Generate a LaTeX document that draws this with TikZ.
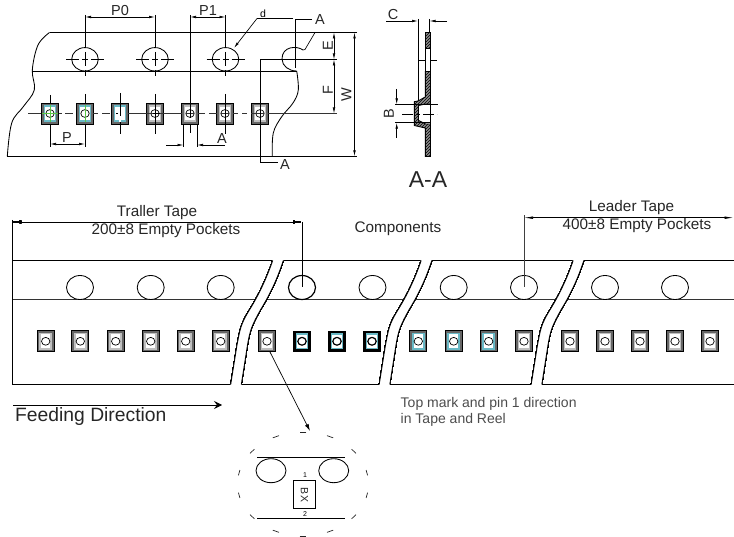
\documentclass[tikz,border=0pt]{standalone}
\usepackage{fontspec}
\setmainfont{Liberation Sans}
\usetikzlibrary{arrows.meta,patterns}
\definecolor{teal1}{RGB}{105,185,198}
\definecolor{grn}{RGB}{90,200,70}
\tikzset{
  ln/.style={line width=0.85pt,black},
  thinln/.style={line width=0.65pt,black},
  dim/.style={line width=0.65pt,black,{Latex[length=6pt,width=2.6pt]}-{Latex[length=6pt,width=2.6pt]}},
  dimlong/.style={line width=0.65pt,black,{Latex[length=9pt,width=2.6pt]}-{Latex[length=9pt,width=2.6pt]}},
  arr/.style={line width=0.65pt,black,-{Latex[length=6pt,width=2.6pt]}},
  ctr/.style={line width=0.8pt,black!80},
  lab/.style={inner sep=0pt,font=\fontsize{14.5}{14.5}\selectfont,text=black!85},
  tl/.style={inner sep=0pt,font=\fontsize{15.3}{15.3}\selectfont,text=black!85},
  note/.style={inner sep=0pt,anchor=west,font=\fontsize{14}{14}\selectfont,text=black!70},
  hole/.style={line width=0.85pt,black,fill=white},
  hatched/.style={line width=0.9pt,black,preaction={fill=black!45},pattern=north east lines,pattern color=black}
}
\newcommand{\pocketbare}[3]{% x y framecolour
  \fill[black!60] (#1-8.5,#2-10.5) rectangle (#1+8.5,#2+10.5);
  \draw[black,line width=0.9pt] (#1-8.5,#2-10.5) rectangle (#1+8.5,#2+10.5);
  \fill[#3] (#1-6.3,#2-8.3) rectangle (#1+6.3,#2+8.3);
  \fill[white] (#1-4.6,#2-6.8) rectangle (#1+4.6,#2+6.8);
}
\newcommand{\pocketbox}[3]{%
  \pocketbare{#1}{#2}{#3}
  \draw[black,line width=0.7pt] (#1,#2) ellipse (4.2 and 3.9);
}
\newcommand{\tapebreak}[1]{% shift of the S-curve pair
  \fill[white] (272.7+#1,260) .. controls (266+#1,280) and (258+#1,296) .. (250+#1,309) .. controls (240+#1,325) and (240+#1,330) .. (237+#1,345) -- (230.7+#1,385) -- (241.3+#1,385) -- (247.5+#1,345) .. controls (250+#1,330) and (252+#1,325) .. (261+#1,309) .. controls (269+#1,296) and (277+#1,280) .. (283.3+#1,260) -- cycle;
  \draw[ln] (272.7+#1,260.5) .. controls (266+#1,280) and (258+#1,296) .. (250+#1,309) .. controls (240+#1,325) and (240+#1,330) .. (237+#1,345) -- (230.7+#1,384.5);
  \draw[ln] (283.3+#1,260.5) .. controls (277+#1,280) and (269+#1,296) .. (261+#1,309) .. controls (252+#1,325) and (250+#1,330) .. (247.5+#1,345) -- (241.3+#1,384.5);
}
\begin{document}
\begin{tikzpicture}[x=1pt,y=-1pt]
\useasboundingbox (0,0) rectangle (734,537);
% ---------- upper tape
\draw[ln] (357,32.5) -- (49.5,32.5);
\draw[ln] plot[smooth,tension=0.6] coordinates {(49.5,32.5) (38,45) (32.3,70) (34.3,90) (23.3,106.7) (11.7,123) (7.3,156.3)};
\draw[ln] (7.3,156.3) -- (357,156.3);
\draw[ln] (32,71) -- (297,71);
\draw[ln] plot[smooth,tension=0.6] coordinates {(296.7,71) (298.3,90) (293,103) (281.7,116.7) (273.3,133) (272.3,156.3)};
\foreach \x in {85,155,225.5} \draw[hole] (\x,59.3) ellipse (13.3 and 11.7);
\draw[ln] (303,50) .. controls (297,45.5) and (282,46) .. (282,59) .. controls (282,66) and (289,71) .. (296.5,71);
\foreach \x in {85,155,225.5} {
  \draw[thinln] (\x-19,59.3) -- (\x-6,59.3) (\x-3,59.3) -- (\x+3,59.3) (\x+6,59.3) -- (\x+19,59.3);
  \draw[thinln] (\x,15) -- (\x,48) (\x,52) -- (\x,66) (\x,70) -- (\x,76);
}
% pockets and centre line
\pocketbox{50}{113.5}{teal1}
\pocketbox{85}{113.5}{teal1}
\pocketbare{120}{113.5}{teal1}
\pocketbox{155}{113.5}{black!25}
\pocketbox{190}{113.5}{black!25}
\pocketbox{225}{113.5}{black!25}
\pocketbox{260}{113.5}{black!25}
\draw[ctr] (28,113.5) -- (41,113.5) (59,113.5) -- (62,113.5) (65,113.5) -- (73,113.5) (93,113.5) -- (98,113.5) (102,113.5) -- (110,113.5) (128,113.5) -- (182,113.5) (186,113.5) -- (194,113.5) (198,113.5) -- (205,113.5) (209,113.5) -- (217,113.5) (221,113.5) -- (229,113.5) (233,113.5) -- (238,113.5) (242,113.5) -- (247,113.5) (251,113.5) -- (264,113.5) (268,113.5) -- (337,113.5);
\draw[thinln] (153,113.5) -- (160,113.5) (116,113.5) -- (118,113.5);
\draw[grn,line width=1pt] (50,105) -- (50,122) (42,113.5) -- (58,113.5) (85,105) -- (85,122);
\draw[thinln] (50,95) -- (50,103) (50,124) -- (50,147);
\draw[thinln] (85,94) -- (85,103) (85,124) -- (85,147);
\draw[thinln] (120,93) -- (120,134) (155,94) -- (155,134) (225,94) -- (225,134) (260,94) -- (260,134);
\fill[white] (118.8,116) rectangle (121.2,122);
% dimensions top
\draw[thinln] (190,15) -- (190,118) (190,124) -- (190,133);
\draw[dim] (85,17) -- (155,17);
\draw[dim] (190,17) -- (225.5,17);
\node[lab] (tP0) at (120,11) {P0};
\node[lab] (tP1) at (208,11) {P1};
\draw[thinln] (312,19) -- (295.5,19) -- (295.5,68);
\node[lab] (tA1) at (320,20) {A};
\draw[thinln] (315,32.5) -- (305,49.5) -- (303,50);
\node[inner sep=0pt,font=\fontsize{10.5}{10.5}\selectfont] (td) at (263,13.5) {d};
\draw[thinln] (293,18.5) -- (257,18.5);
\draw[arr] (257,18.5) -- (234,48);
% lower section mark
\draw[thinln] (337,59.5) -- (260,59.5) -- (260,162) -- (278,162);
\node[lab] (tA2) at (285,165) {A};
% P and A
\draw[thinln] (183.5,125) -- (183.5,147) (197,125) -- (197,147);
\draw[dim] (50,144) -- (85,144);
\node[lab] (tP) at (67,137.5) {P};
\draw[arr] (166,145) -- (183.5,145);
\draw[arr] (225,145) -- (197,145);
\node[lab] (tA3) at (222,138.5) {A};
% right dims
\draw[dim] (334,32.5) -- (334,59.5);
\draw[dim] (334,59.5) -- (334,113.5);
\draw[dim] (354.5,32.5) -- (354.5,156.3);
\node[lab,rotate=90] (tE) at (328,46) {E};
\node[lab,rotate=90] (tF) at (328,90.5) {F};
\node[lab,rotate=90] (tW) at (346.5,95) {W};
% ---------- section A-A
\node[lab] (tC) at (393,14.5) {C};
\draw[arr] (386,21) -- (418,21);
\draw[arr] (447,21) -- (429.5,21);
\draw[thinln] (418,19) -- (418,101);
\draw[thinln] (429.5,19) -- (429.5,32);
\draw[thinln] (418,60) -- (437,60);
\draw[thinln,fill=white] (425.3,48.5) rectangle (430.5,71.5);
\draw[hatched] (425.3,32.3) rectangle (430.5,48.5);
\draw[hatched] (425.3,71.5) -- (430.5,71.5) -- (430.5,104) -- (425.3,104) -- (418.5,105.5) -- (418.5,120.5) -- (425.5,124) -- (430.5,124) -- (430.5,156.5) -- (425.3,156.5) -- (425.3,128) -- (414.3,125.5) -- (414.3,101.7) -- (418,101) -- (425.3,97) -- cycle;
\draw[thinln] (430.5,104) -- (430.5,124);
\draw[thinln] (395,104.4) -- (438,104.4) (395,122.7) -- (430,122.7);
\draw[thinln,dash pattern=on 11pt off 3pt on 4pt off 3pt] (402,114) -- (437,114);
\draw[arr] (396.7,89) -- (396.7,104.4);
\draw[arr] (396.7,138) -- (396.7,122.7);
\node[lab,rotate=90] (tB) at (389,114) {B};
\node[inner sep=0pt,font=\fontsize{23}{23}\selectfont,text=black!85] (tAA) at (428,179.5) {A-A};
% ---------- lower tape
\draw[ln] (12,260.5) -- (734,260.5);
\draw[ln,black!80] (12,299.3) -- (734,299.3);
\draw[ln] (12,384.5) -- (734,384.5);
\draw[thinln] (12,220) -- (12,384.5);
\foreach \x in {80,150.7,220.7,372.5,453.7,524,605,675} \draw[hole] (\x,287.5) ellipse (13.5 and 12);
\draw[hole,line width=1.2pt] (302,287.5) ellipse (13.5 and 12);
\foreach \x in {45.7,80.3,115.7,150.7,185.7,220.7,267,524,570,605,640,675,710} \pocketbox{\x}{341.3}{black!25}
\foreach \x in {418.3,453.7,488.7} \pocketbox{\x}{341.3}{teal1}
\foreach \x in {302,337,372} {
  \fill[black] (\x-8.7,330.8) rectangle (\x+8.7,351.8);
  \fill[teal1] (\x-6,333.5) rectangle (\x+6,349.2);
  \fill[white] (\x-4.8,334.7) rectangle (\x+4.8,348);
  \draw[black,line width=1.2pt] (\x,341.3) ellipse (4.2 and 3.9);
}
\tapebreak{0}
\tapebreak{148.5}
\tapebreak{300.5}
% lower dimensions
\draw[dimlong] (12,222) -- (302,222);
\draw[thinln] (302,222) -- (302,287.5);
\draw[dimlong] (524,217.7) -- (733.5,217.7);
\draw[line width=0.9pt,black!75] (524,215.5) -- (524,287.5);
\node[tl] (tTr) at (157,213) {Traller Tape};
\node[tl] (t200) at (166,230.5) {200±8 Empty Pockets};
\node[tl] (tCo) at (398,229) {Components};
\node[tl] (tLe) at (631.5,208) {Leader Tape};
\node[tl] (t400) at (637,226) {400±8 Empty Pockets};
\node[inner sep=0pt,anchor=west,font=\fontsize{19.3}{19.3}\selectfont,text=black!85] (tFe) at (15,417) {Feeding Direction};
\draw[line width=0.85pt,black,-{Stealth[length=8pt,width=8pt,inset=3pt]}] (13,405) -- (222,405);
\node[note] (tTo) at (400.5,404) {Top mark and pin 1 direction};
\node[note] (tIn) at (400.5,420) {in Tape and Reel};
\draw[line width=0.7pt,black,-{Latex[length=7pt,width=4pt]}] (270,352) -- (310,431);
% ---------- detail
\foreach \t in {90,65.5,39,12.6,-12.6,-39,-65.5,-90,-114.5,-141,-167.4,167.4,141,114.5} {
  \draw[line width=0.7pt,black!85] ({303+65.5*cos(\t-3)},{484-52*sin(\t-3)}) -- ({303+65.5*cos(\t+3)},{484-52*sin(\t+3)});
}
\draw[ln] (257,457.7) -- (345,457.7);
\draw[ln] (257,518) -- (345,518);
\draw[ln] (271,470.7) ellipse (15 and 12);
\draw[ln] (333.7,470.7) ellipse (15 and 12);
\draw[ln] (293.3,480) rectangle (315.7,508.7);
\node[inner sep=0pt,rotate=-90,font=\fontsize{10.5}{10.5}\selectfont,text=black!85] (tBX) at (304.5,495) {BX};
\node[inner sep=0pt,font=\fontsize{7}{7}\selectfont] (t1) at (305,475.5) {1};
\node[inner sep=0pt,font=\fontsize{7}{7}\selectfont] (t2) at (305,514) {2};
\end{tikzpicture}
\end{document}
